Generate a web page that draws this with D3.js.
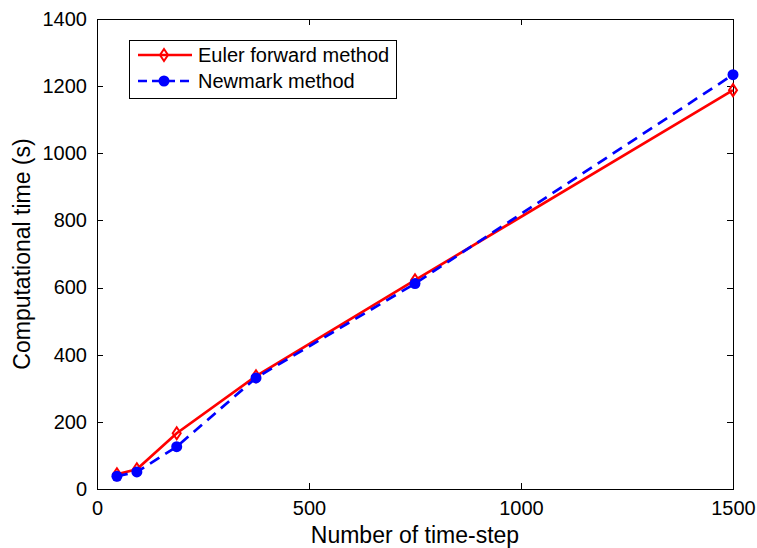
<!DOCTYPE html>
<html lang="en">
    <head>
        <meta charset="utf-8">
        <title>Computational time</title>
        <script type="text/javascript" src="https://cdn.jsdelivr.net/npm/d3@7/dist/d3.min.js"></script>
        <style>
        body { margin: 0; background: #fff; }
        svg text { font-family: "Liberation Sans", Arial, sans-serif; fill: #000; }
        .axis path, .axis line { stroke: #000; shape-rendering: crispEdges; }
        </style>
    </head>
    <body>
        <script type="text/javascript">
        var timeSteps = [47, 94, 188, 375, 750, 1500];
        var eulerTime = [44, 59, 166, 336, 622, 1188];
        var newmarkTime = [38, 51, 126, 331, 612, 1234];
        var xTicks = [0, 500, 1000, 1500];
        var yTicks = [0, 200, 400, 600, 800, 1000, 1200, 1400];
        var seriesNames = ["Euler forward method", "Newmark method"];

        var w = 757, h = 548;
        var padL = 97, padR = 733, padT = 19, padB = 489;

        var xScale = d3.scaleLinear().domain([0, 1500]).range([padL, padR]);
        var yScale = d3.scaleLinear().domain([0, 1400]).range([padB, padT]);
        var fmt = d3.format("d");

        var svg = d3.select("body").append("svg")
            .attr("width", w)
            .attr("height", h);

        svg.append("rect")
            .attr("x", padL).attr("y", padT)
            .attr("width", padR - padL).attr("height", padB - padT)
            .attr("fill", "none").attr("stroke", "#000")
            .attr("shape-rendering", "crispEdges");

        // ticks point inward, on all four sides
        var xAxis = d3.axisBottom(xScale).tickValues(xTicks).tickFormat(fmt).tickSizeInner(-6).tickSizeOuter(0).tickPadding(12);
        var yAxis = d3.axisLeft(yScale).tickValues(yTicks).tickFormat(fmt).tickSizeInner(-6).tickSizeOuter(0).tickPadding(10);
        svg.append("g").attr("class", "axis")
            .attr("transform", "translate(0," + padB + ")").call(xAxis);
        svg.append("g").attr("class", "axis")
            .attr("transform", "translate(" + padL + ",0)").call(yAxis);
        svg.append("g").attr("class", "axis")
            .attr("transform", "translate(0," + padT + ")")
            .call(d3.axisTop(xScale).tickValues(xTicks).tickSizeInner(-6).tickSizeOuter(0).tickFormat(""));
        svg.append("g").attr("class", "axis")
            .attr("transform", "translate(" + padR + ",0)")
            .call(d3.axisRight(yScale).tickValues(yTicks).tickSizeInner(-6).tickSizeOuter(0).tickFormat(""));
        svg.selectAll(".axis .domain").remove();
        svg.selectAll(".axis text").style("font-size", "20px")
            .style("font-family", "'Liberation Sans', Arial, sans-serif");

        svg.append("text")
            .attr("x", (padL + padR) / 2).attr("y", 543)
            .attr("text-anchor", "middle")
            .style("font-size", "23px")
            .text("Number of time-step");
        svg.append("text")
            .attr("transform", "translate(30," + ((padT + padB) / 2) + ") rotate(-90)")
            .attr("text-anchor", "middle")
            .style("font-size", "23px")
            .text("Computational time (s)");

        var line = d3.line()
            .x(function (d) { return xScale(d[0]); })
            .y(function (d) { return yScale(d[1]); });

        var eulerData = timeSteps.map(function (t, i) { return [t, eulerTime[i]]; });
        var newmarkData = timeSteps.map(function (t, i) { return [t, newmarkTime[i]]; });

        function diamond(g, x, y) {
            g.append("path")
                .attr("d", "M" + x + "," + (y - 6) + "L" + (x + 4) + "," + y + "L" + x + "," + (y + 6) + "L" + (x - 4) + "," + y + "Z")
                .attr("fill", "none").attr("stroke", "#ff0000").attr("stroke-width", 2);
        }
        function dot(g, x, y) {
            g.append("circle").attr("cx", x).attr("cy", y).attr("r", 5.5)
                .attr("fill", "#0000ff");
        }

        svg.append("path").datum(eulerData)
            .attr("d", line).attr("fill", "none")
            .attr("stroke", "#ff0000").attr("stroke-width", 2.7);
        var gm1 = svg.append("g");
        eulerData.forEach(function (d) { diamond(gm1, xScale(d[0]), yScale(d[1])); });

        svg.append("path").datum(newmarkData)
            .attr("d", line).attr("fill", "none")
            .attr("stroke", "#0000ff").attr("stroke-width", 2.7)
            .attr("stroke-dasharray", "11,7");
        var gm2 = svg.append("g");
        newmarkData.forEach(function (d) { dot(gm2, xScale(d[0]), yScale(d[1])); });

        // legend
        var lg = svg.append("g");
        lg.append("rect")
            .attr("x", 129).attr("y", 40).attr("width", 267).attr("height", 58)
            .attr("fill", "#fff").attr("stroke", "#000").attr("shape-rendering", "crispEdges");
        lg.append("line").attr("x1", 138).attr("x2", 192).attr("y1", 55).attr("y2", 55)
            .attr("stroke", "#ff0000").attr("stroke-width", 2.7);
        diamond(lg, 164, 55);
        lg.append("line").attr("x1", 138).attr("x2", 192).attr("y1", 81).attr("y2", 81)
            .attr("stroke", "#0000ff").attr("stroke-width", 2.7).attr("stroke-dasharray", "9,5");
        dot(lg, 164, 81);
        lg.selectAll("text.lab").data(seriesNames).enter().append("text")
            .attr("x", 198)
            .attr("y", function (d, i) { return 62 + i * 26; })
            .style("font-size", "20px")
            .text(function (d) { return d; });
        </script>
    </body>
</html>
